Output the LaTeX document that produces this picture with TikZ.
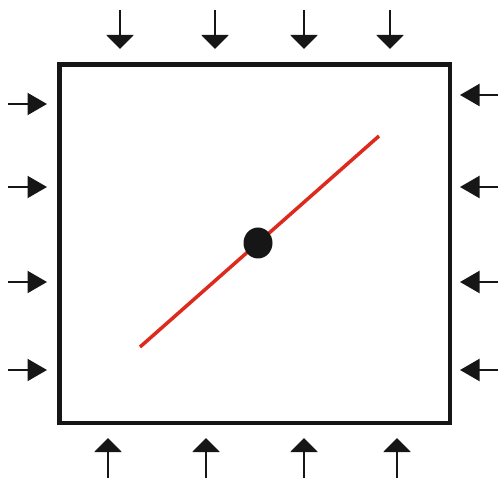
\documentclass[tikz,border=0pt]{standalone}
\usetikzlibrary{arrows.meta, shapes.geometric}
\definecolor{crackred}{RGB}{222,42,28}
\definecolor{inkblack}{RGB}{22,22,22}
\tikzset{
  plate/.style = {rectangle, draw=inkblack, line width=4.5pt, inner sep=0pt,
                  outer sep=0pt, minimum width=390.5pt, minimum height=358.5pt},
  vload/.style = {-{Triangle[width=27pt, length=14pt]}, line width=2.2pt, inkblack},
  hload/.style = {-{Triangle[width=22pt, length=19.5pt]}, line width=2pt, inkblack},
  crack/.style = {draw=crackred, line width=3.5pt},
  pin/.style   = {ellipse, fill=inkblack, inner sep=0pt,
                  minimum width=29pt, minimum height=31pt},
}

\begin{document}
\begin{tikzpicture}[x=1pt, y=-1pt]
\useasboundingbox (0,0) rectangle (498,478);

% ── Plate ────────────────────────────────────────────────
\node[plate, anchor=north west] (box) at (59.5,64.5) {};

% ── Crack and centre pin ─────────────────────────────────
\coordinate (crackA) at (140,347);
\coordinate (crackB) at (379,136);
\draw[crack] (crackA) -- (crackB);
\node[pin] (centre) at (258,243) {};

% ── Loads: top and bottom ────────────────────────────────
\foreach \x [count=\i] in {120,215,304,390} {
  \coordinate (topS\i) at (\x,10);
  \coordinate (topE\i) at (\x,49);
  \draw[vload] (topS\i) -- (topE\i);
}
\foreach \x [count=\i] in {108,206,304,397} {
  \coordinate (botS\i) at (\x,478);
  \coordinate (botE\i) at (\x,438);
  \draw[vload] (botS\i) -- (botE\i);
}

% ── Loads: left and right ────────────────────────────────
\foreach \y [count=\i] in {104,187,282,370} {
  \coordinate (lftS\i) at (8,\y);
  \coordinate (lftE\i) at (47,\y);
  \draw[hload] (lftS\i) -- (lftE\i);
}
\foreach \y [count=\i] in {95,187,282,370} {
  \coordinate (rgtS\i) at (498,\y);
  \coordinate (rgtE\i) at (460,\y);
  \draw[hload] (rgtS\i) -- (rgtE\i);
}

\end{tikzpicture}
\end{document}
